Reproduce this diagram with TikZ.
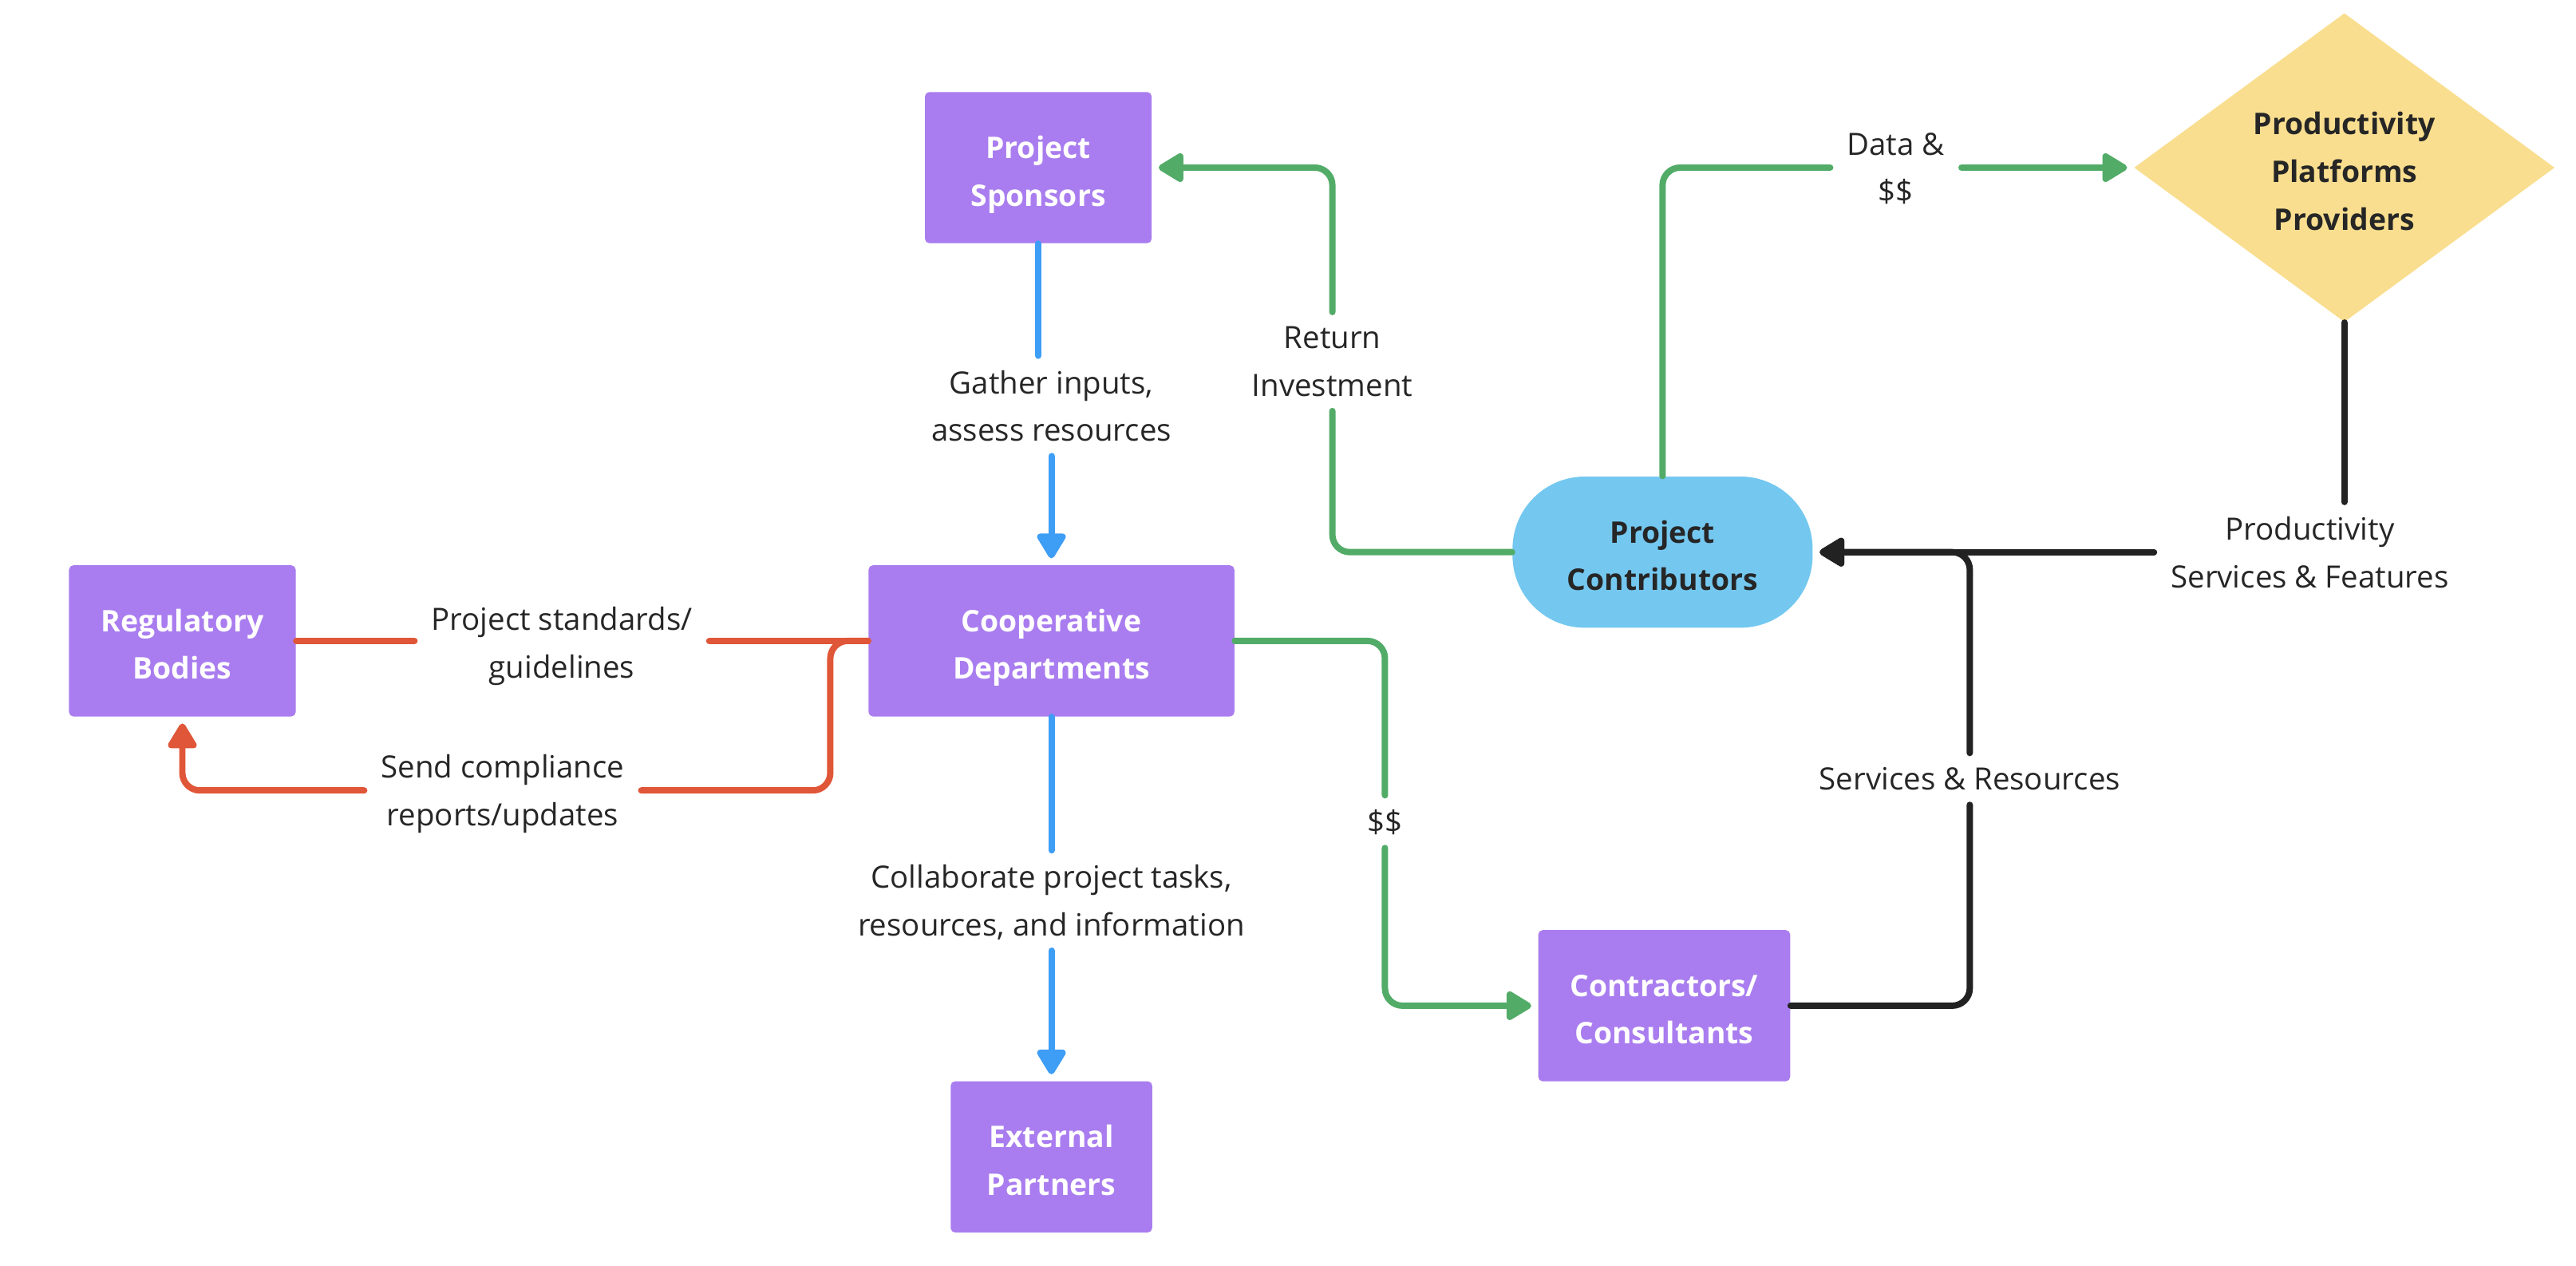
\documentclass[tikz,border=0pt]{standalone}
\usepackage{fontspec}
\setmainfont{Open Sans}
\usepackage{xcolor}
\usetikzlibrary{arrows.meta,shapes.geometric,positioning,calc}

\definecolor{boxpurple}{RGB}{169,125,239}
\definecolor{pillblue}{RGB}{116,200,240}
\definecolor{diayellow}{RGB}{249,222,143}
\definecolor{lnblue}{RGB}{62,157,245}
\definecolor{lngreen}{RGB}{82,172,104}
\definecolor{lnred}{RGB}{224,86,56}
\definecolor{lnblack}{RGB}{34,34,34}
\definecolor{txtdark}{RGB}{38,38,38}

\tikzset{
  unitbox/.style={rectangle, rounded corners=2pt, fill=boxpurple, text=white,
    font=\bfseries\fontsize{13.6}{21.75}\selectfont, align=center, inner sep=0pt,
    text height=35pt, text depth=0pt, minimum height=69pt},
  pillbox/.style={rectangle, rounded corners=33pt, fill=pillblue, text=txtdark,
    font=\bfseries\fontsize{13.6}{21.75}\selectfont, align=center, inner sep=0pt,
    text height=35pt, text depth=0pt, minimum width=137pt, minimum height=69pt},
  provbox/.style={diamond, aspect=1.36, fill=diayellow, text=txtdark,
    font=\bfseries\fontsize{13.6}{21.75}\selectfont, align=center, inner sep=0pt,
    text height=57pt, text depth=0pt, minimum width=192pt, minimum height=141pt},
  flowlbl/.style={text=txtdark, font=\fontsize{14}{21.75}\selectfont,
    align=center, inner xsep=7.5pt, inner ysep=6.5pt, text depth=0pt},
  flow/.style={line width=2.9pt, line cap=round, rounded corners=8pt},
  tip/.style={-{Triangle[length=12.75pt,width=14.5pt,round]}, shorten >=3pt}
}

\begin{document}
\begin{tikzpicture}[x=0.75pt,y=0.75pt,yscale=-1,xscale=1]
\useasboundingbox (0,0) rectangle (1568,770);

%Shapes
\node [unitbox, minimum width=103.5pt] (sponsors) at (632,102) {Project\\Sponsors};
\node [unitbox, minimum width=167pt] (coop) at (640,390) {Cooperative\\Departments};
\node [unitbox, minimum width=103.5pt] (reg) at (111,390) {Regulatory\\Bodies};
\node [unitbox, minimum width=92pt] (ext) at (640,704) {External\\Partners};
\node [unitbox, minimum width=115pt] (contr) at (1013,612) {Contractors/\\Consultants};
\node [pillbox] (contrib) at (1012,336) {Project\\Contributors};
\node [provbox] (prov) at (1427,102) {Productivity\\Platforms\\Providers};

% Text Node
\node [flowlbl] (gather) at (640,247) {Gather inputs,\\assess resources};
\node [flowlbl] (collab) at (640,548) {Collaborate project tasks,\\resources, and information};
\node [flowlbl] (standards) at (342,391) {Project standards/\\guidelines};
\node [flowlbl] (send) at (306,481) {Send compliance\\reports/updates};
\node [flowlbl] (dollar) at (843,500) {\$\$};
\node [flowlbl] (ret) at (811,220) {Return\\Investment};
\node [flowlbl] (data) at (1154,102) {Data \&\\\$\$};
\node [flowlbl] (psf) at (1406,336) {Productivity\\Services \& Features};
\node [flowlbl] (svc) at (1199,474) {Services \& Resources};

%Blue Lines
\draw [flow, lnblue] (sponsors.south) -- (sponsors.south |- gather.north);
\draw [flow, lnblue, tip] (gather.south) -- (coop.north);
\draw [flow, lnblue] (coop.south) -- (collab.north);
\draw [flow, lnblue, tip] (collab.south) -- (ext.north);

%Red Lines
\draw [flow, lnred] (reg.east) -- (reg.east -| standards.west);
\draw [flow, lnred] (standards.east |- coop.west) -- (coop.west);
\draw [flow, lnred] (coop.west) -- ++(-23,0) |- (send.east);
\draw [flow, lnred, tip] (send.west) -| (reg.south);

%Green Lines
\draw [flow, lngreen] (coop.east) -| (dollar.north);
\draw [flow, lngreen, tip] (dollar.south) |- (contr.west);
\draw [flow, lngreen] (contrib.west) -| (ret.south);
\draw [flow, lngreen, tip] (ret.north) |- (sponsors.east);
\draw [flow, lngreen] (contrib.north) |- (data.west);
\draw [flow, lngreen, tip] (data.east) -- (prov.west);

%Black Lines
\draw [flow, lnblack] (prov.south) -- (prov.south |- psf.north);
\draw [flow, lnblack, tip] (psf.west) -- (contrib.east);
\draw [flow, lnblack] (contr.east) -| (svc.south);
\draw [flow, lnblack, tip] (svc.north) |- (contrib.east);

\end{tikzpicture}
\end{document}
